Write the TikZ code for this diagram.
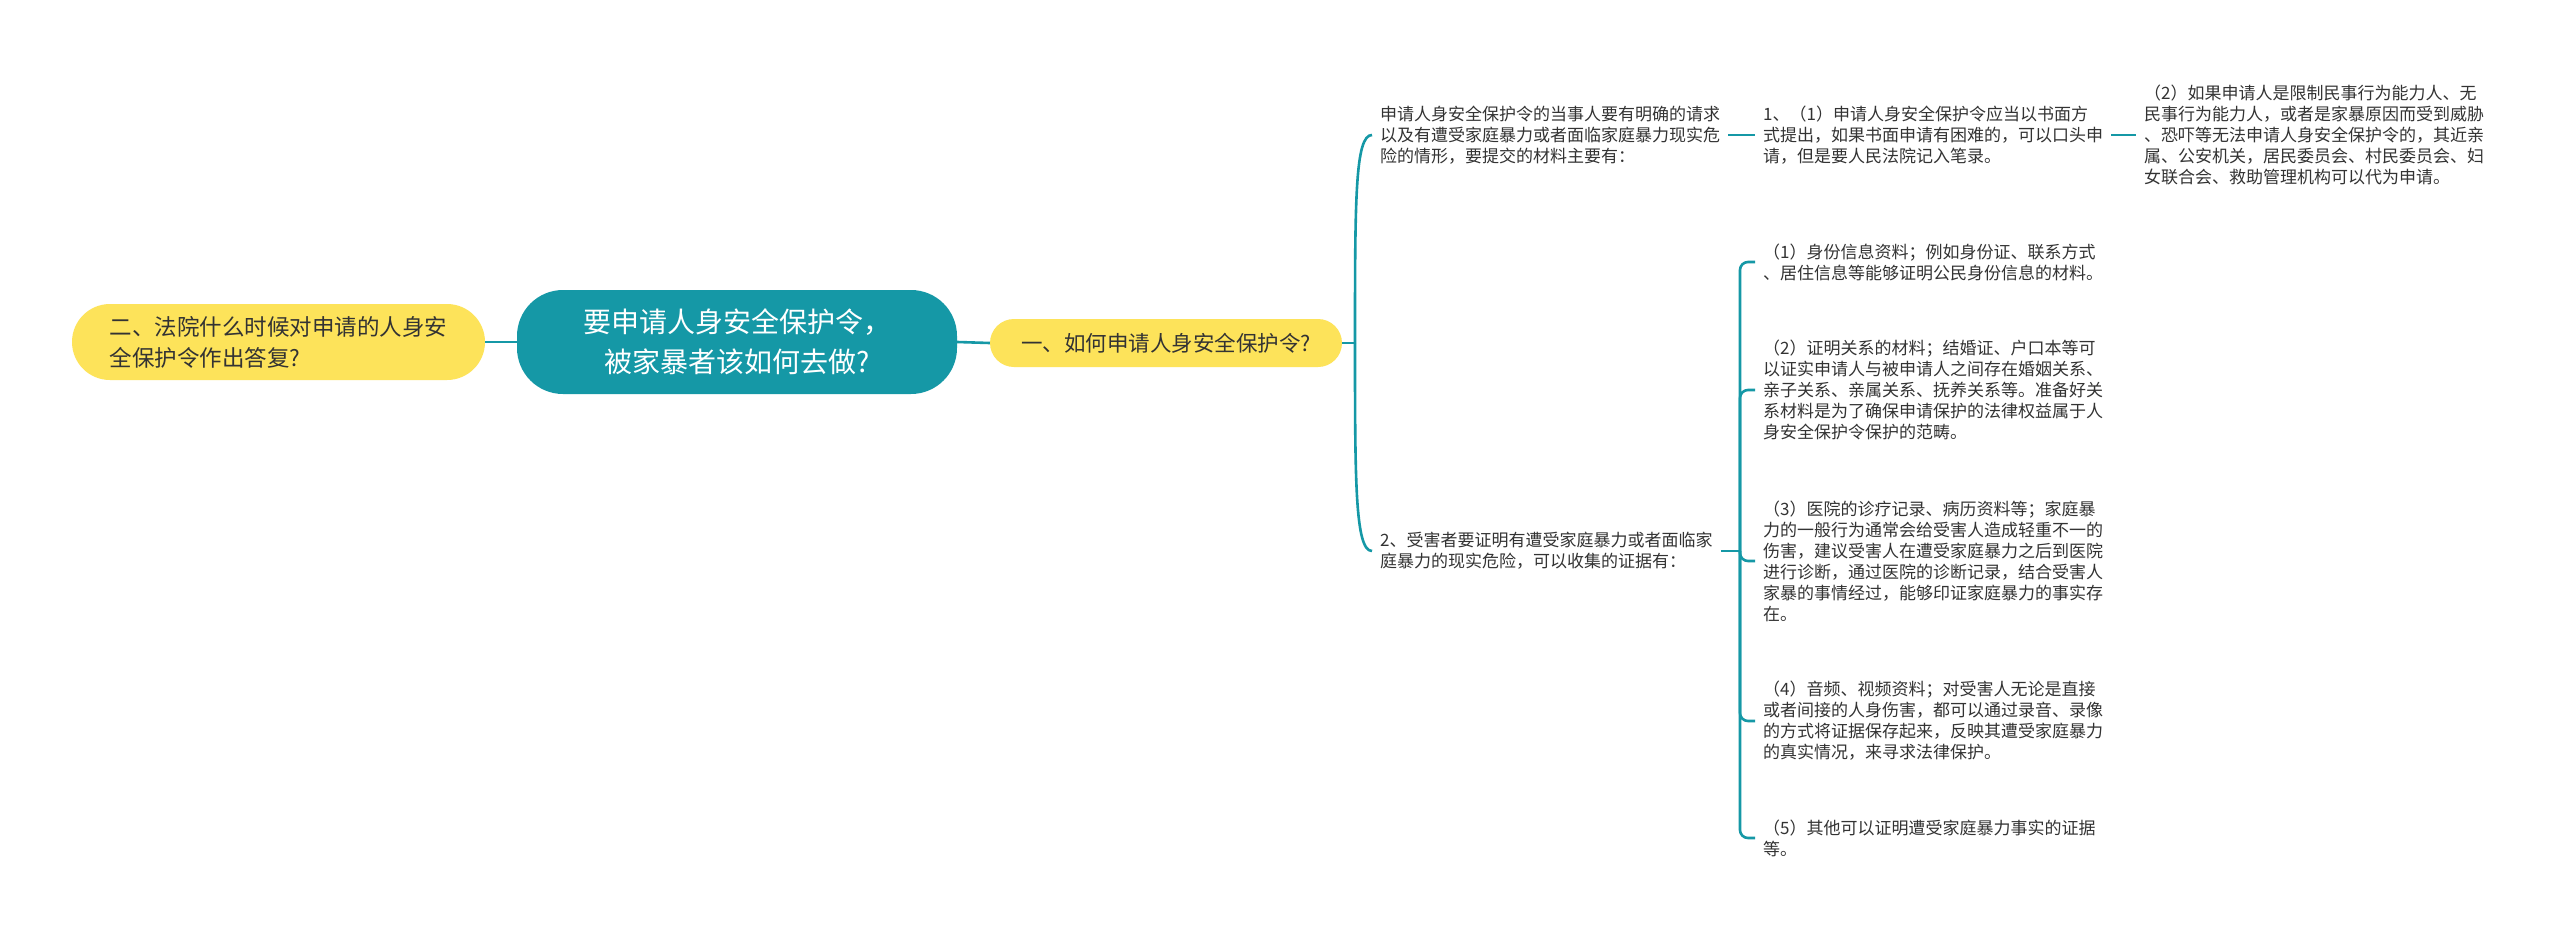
\documentclass[tikz,border=0pt]{standalone}
\usepackage{fontspec}
\setmainfont{Noto Sans CJK SC}
\definecolor{tealc}{HTML}{1598A6}
\definecolor{yelc}{HTML}{FDE35A}
\definecolor{txtc}{HTML}{333333}
\begin{document}
\begin{tikzpicture}[x=1pt,y=-1pt,
  conn/.style={draw=tealc, line width=2.6pt},
  leaf/.style={anchor=west, inner xsep=8pt, inner ysep=2pt, align=left, text=txtc, font=\fontsize{17pt}{21pt}\selectfont},
  pill/.style={fill=yelc, text=txtc, inner sep=0pt},
]
\useasboundingbox[fill=white] (0,0) rectangle (2560,940);

\node[fill=tealc, rounded corners=46pt, minimum width=440pt, minimum height=104pt, inner sep=0pt,
      text=white, align=center, font=\fontsize{28pt}{40pt}\selectfont] (root) at (737,342)
  {要申请人身安全保护令，\\被家暴者该如何去做?};

\node[pill, rounded corners=38pt, minimum width=413pt, minimum height=76pt, align=left,
      font=\fontsize{22.5pt}{31pt}\selectfont] (left) at (278.5,342)
  {二、法院什么时候对申请的人身安\\全保护令作出答复?};

\node[pill, rounded corners=24pt, minimum width=352pt, minimum height=48pt,
      font=\fontsize{21.5pt}{26pt}\selectfont] (y1) at (1166,343)
  {一、如何申请人身安全保护令?};

\node[leaf] (c1) at (1372,135)
  {申请人身安全保护令的当事人要有明确的请求\\以及有遭受家庭暴力或者面临家庭暴力现实危\\险的情形，要提交的材料主要有：};
\node[leaf] (c11) at (1755,135)
  {1、（1）申请人身安全保护令应当以书面方\\式提出，如果书面申请有困难的，可以口头申\\请，但是要人民法院记入笔录。};
\node[leaf] (c111) at (2136,135)
  {（2）如果申请人是限制民事行为能力人、无\\民事行为能力人，或者是家暴原因而受到威胁\\、恐吓等无法申请人身安全保护令的，其近亲\\属、公安机关，居民委员会、村民委员会、妇\\女联合会、救助管理机构可以代为申请。};
\node[leaf] (c2) at (1372,551)
  {2、受害者要证明有遭受家庭暴力或者面临家\\庭暴力的现实危险，可以收集的证据有：};

\node[leaf] (d1) at (1755,262)
  {（1）身份信息资料；例如身份证、联系方式\\、居住信息等能够证明公民身份信息的材料。};
\node[leaf] (d2) at (1755,390)
  {（2）证明关系的材料；结婚证、户口本等可\\以证实申请人与被申请人之间存在婚姻关系、\\亲子关系、亲属关系、抚养关系等。准备好关\\系材料是为了确保申请保护的法律权益属于人\\身安全保护令保护的范畴。};
\node[leaf] (d3) at (1755,561)
  {（3）医院的诊疗记录、病历资料等；家庭暴\\力的一般行为通常会给受害人造成轻重不一的\\伤害，建议受害人在遭受家庭暴力之后到医院\\进行诊断，通过医院的诊断记录，结合受害人\\家暴的事情经过，能够印证家庭暴力的事实存\\在。};
\node[leaf] (d4) at (1755,721)
  {（4）音频、视频资料；对受害人无论是直接\\或者间接的人身伤害，都可以通过录音、录像\\的方式将证据保存起来，反映其遭受家庭暴力\\的真实情况，来寻求法律保护。};
\node[leaf] (d5) at (1755,838)
  {（5）其他可以证明遭受家庭暴力事实的证据\\等。};

\coordinate (j1) at (1355,343);
\coordinate (j2) at (1740,551);

\draw[conn] (left.east) -- (root.west);
\draw[conn] (root.east) -- (y1.west);
\draw[conn] (y1.east) -- (j1);
\draw[conn] (j1) .. controls (1355,200) and (1355,135) .. (c1.west);
\draw[conn] (j1) .. controls (1355,480) and (1355,551) .. (c2.west);
\draw[conn] (c1.east) -- (c11.west);
\draw[conn] (c11.east) -- (c111.west);
\draw[conn] (c2.east) -- (j2);
\foreach \d in {d1,d2,d3,d4,d5}
  \draw[conn, rounded corners=8pt] (j2) |- (\d.west);
\end{tikzpicture}
\end{document}
